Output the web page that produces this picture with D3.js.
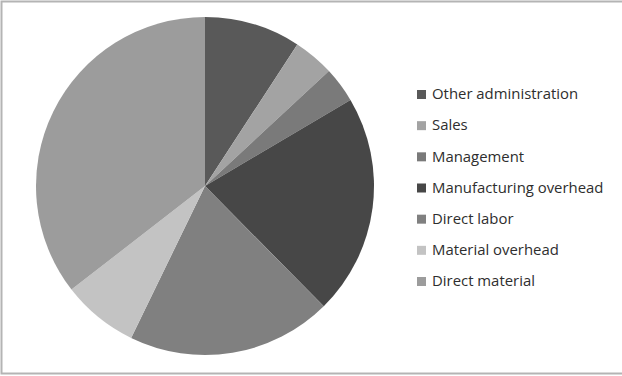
<!DOCTYPE html>
<html>
<head>
<meta charset="utf-8">
<script src="https://cdn.jsdelivr.net/npm/d3@7"></script>
<style>
  html, body { margin: 0; padding: 0; background: #fff; }
  svg { display: block; }
</style>
</head>
<body>
<svg id="chart" width="622" height="376"></svg>
<script>
// Cost breakdown, percentage share of each category
const categories = [
  "Other administration",
  "Sales",
  "Management",
  "Manufacturing overhead",
  "Direct labor",
  "Material overhead",
  "Direct material"
];
const shares = [9.2, 3.9, 3.4, 21.1, 19.6, 7.3, 35.5];
const colors = ["#595959", "#a3a3a3", "#7a7a7a", "#474747", "#808080", "#c3c3c3", "#9c9c9c"];

const svg = d3.select("#chart");
const W = 622, H = 376;

// chart area frame (right edge runs off the canvas)
svg.append("rect")
  .attr("x", 1.5).attr("y", 1.5)
  .attr("width", W + 10).attr("height", H - 4)
  .attr("fill", "#fff")
  .attr("stroke", "#b4b4b4")
  .attr("stroke-width", 2);

const cx = 205, cy = 186, radius = 169;

const data = categories.map((c, i) => ({ name: c, value: shares[i], color: colors[i] }));

const pie = d3.pie().sort(null).value(d => d.value);
const arc = d3.arc().innerRadius(0).outerRadius(radius);

svg.append("g")
  .attr("transform", `translate(${cx},${cy})`)
  .selectAll("path")
  .data(pie(data))
  .join("path")
  .attr("d", arc)
  .attr("fill", d => d.data.color);

// legend
const legendY = d3.scalePoint().domain(categories).range([94, 281]);
const legend = svg.append("g");
const rows = legend.selectAll("g")
  .data(data)
  .join("g")
  .attr("transform", d => `translate(417,${legendY(d.name)})`);

rows.append("rect")
  .attr("x", 0).attr("y", -4)
  .attr("width", 9).attr("height", 9)
  .attr("fill", d => d.color);

rows.append("text")
  .attr("x", 15).attr("y", 0)
  .attr("dy", "0.35em")
  .attr("font-family", "'Open Sans', sans-serif")
  .attr("font-size", 14.9)
  .attr("fill", "#2e2e2e")
  .text(d => d.name);
</script>
</body>
</html>
